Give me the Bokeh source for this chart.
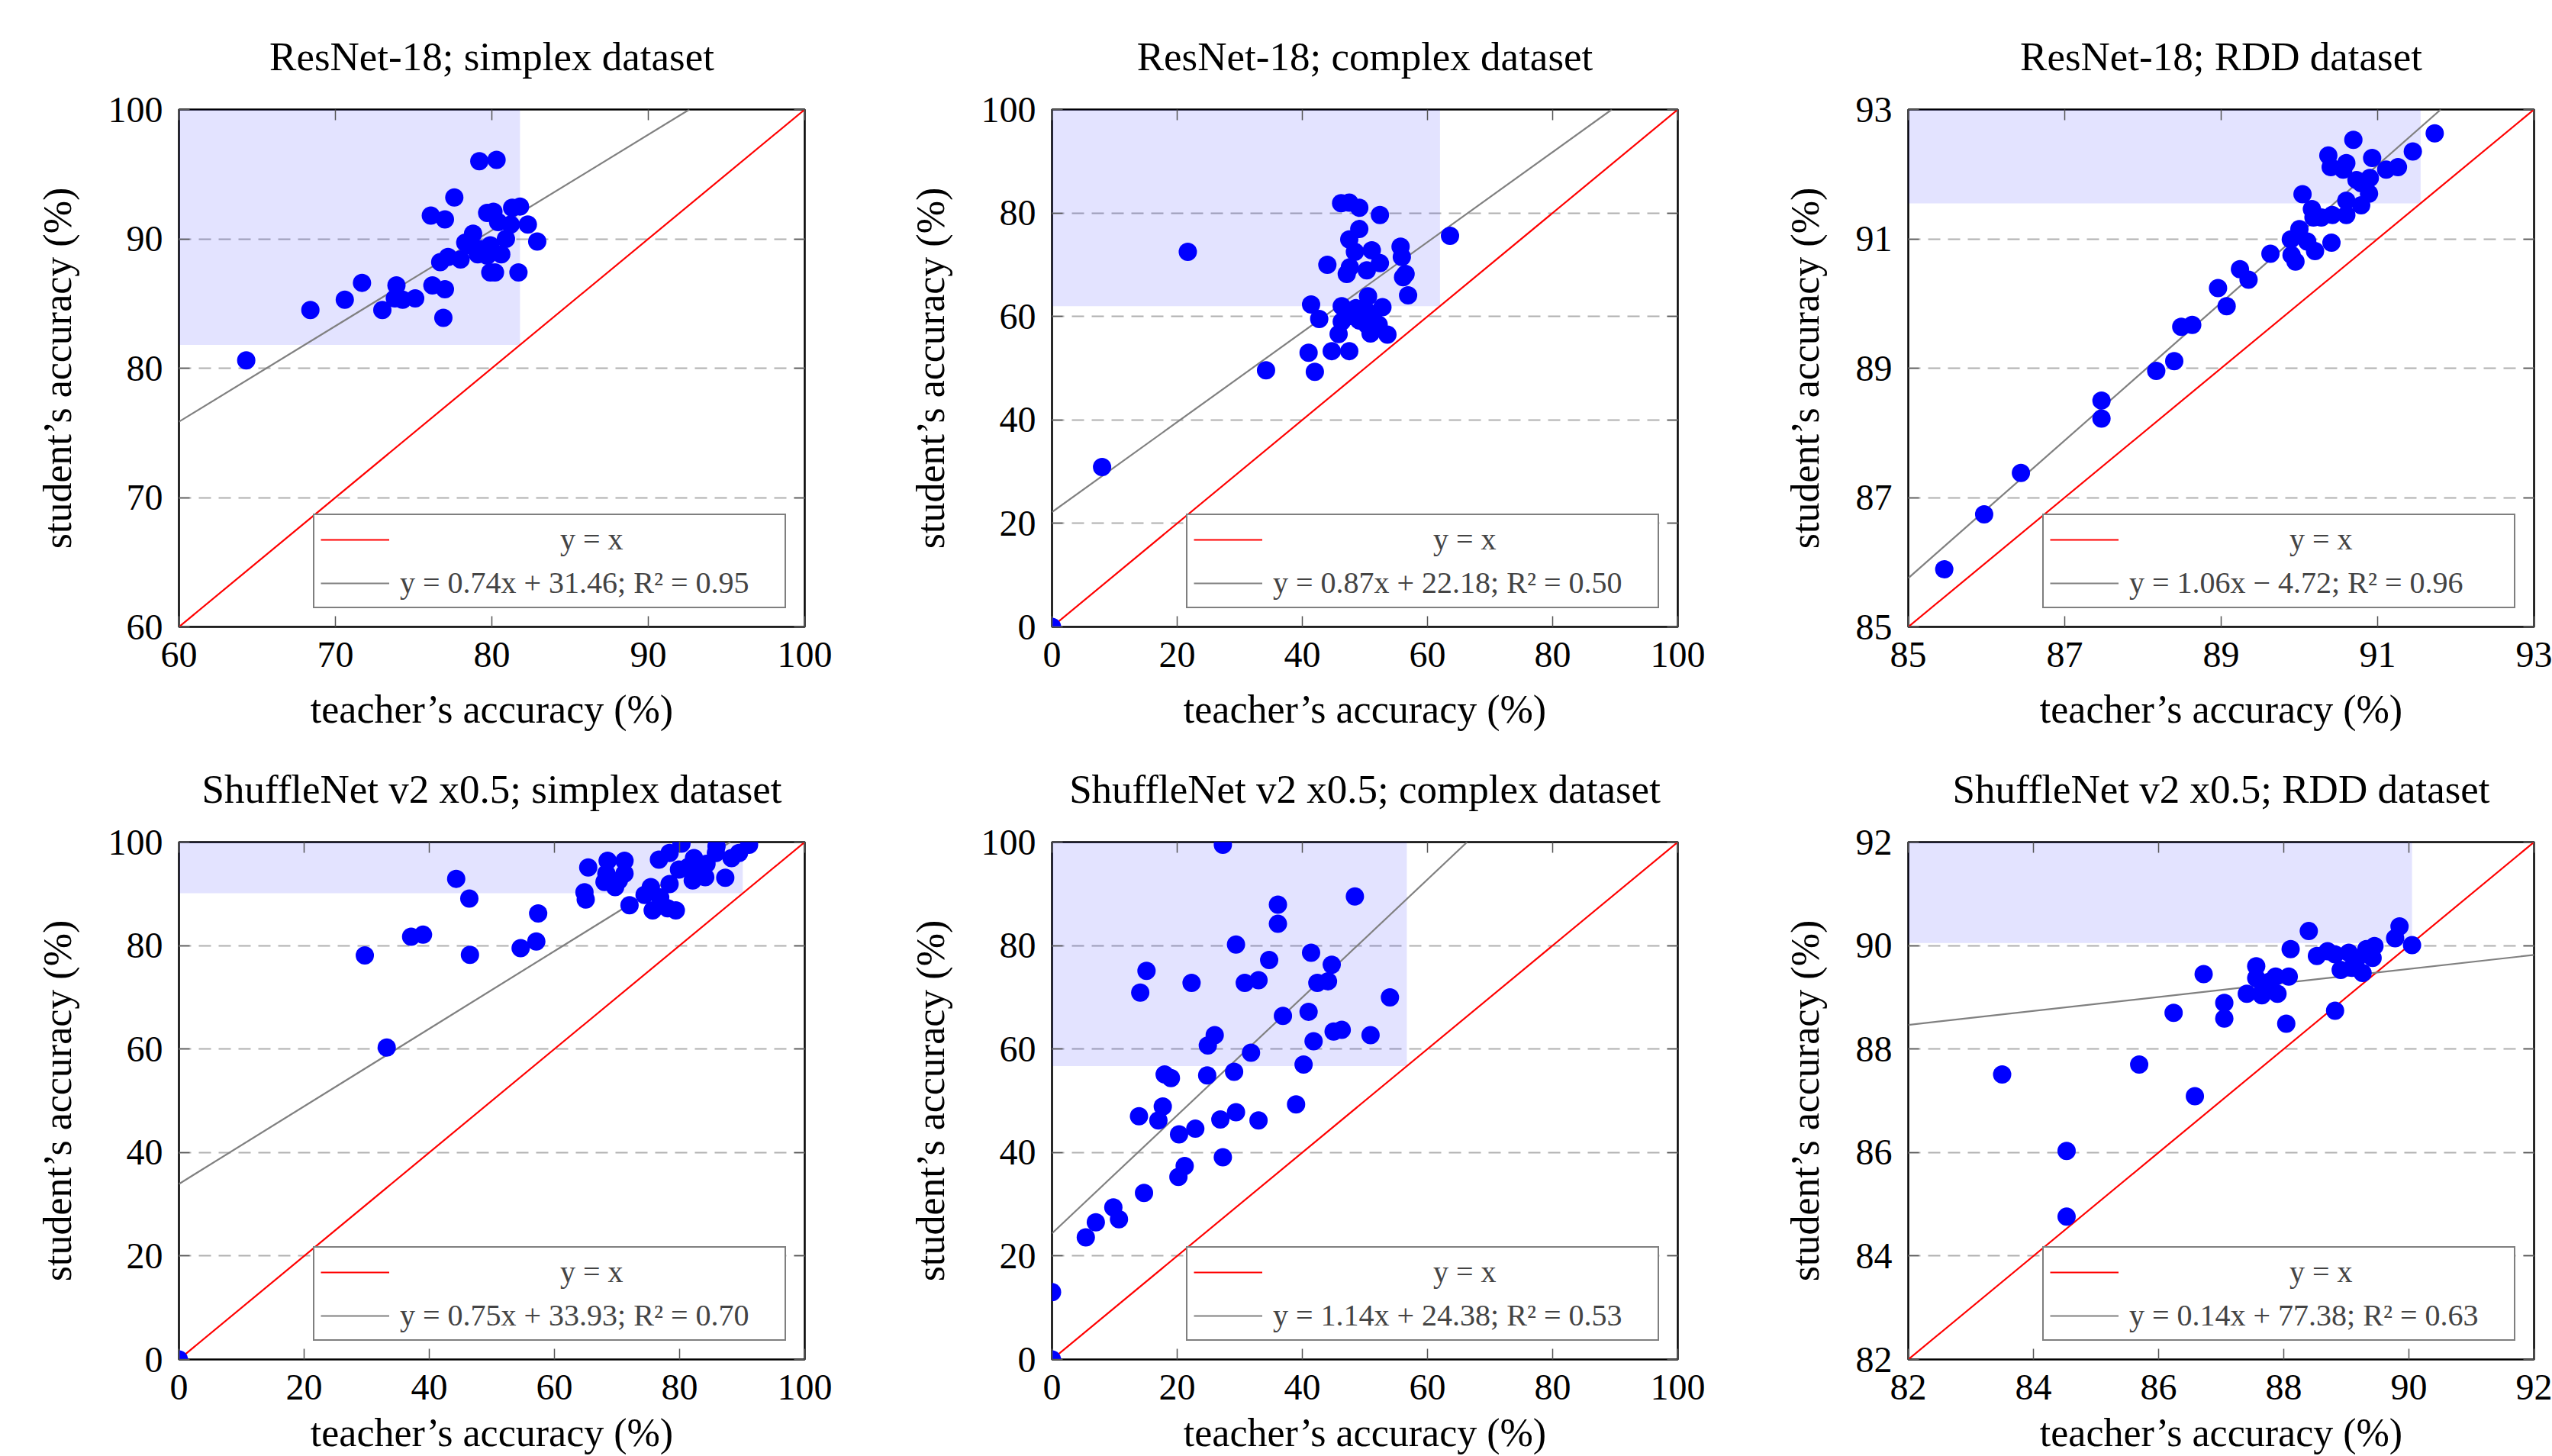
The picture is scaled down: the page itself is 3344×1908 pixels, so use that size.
from bokeh.plotting import figure
from bokeh.models import Range1d, FixedTicker, LinearAxis, Legend, LegendItem
from bokeh.layouts import row, column
from bokeh.embed import file_html
from bokeh.resources import INLINE

# ---------------- data ----------------
titles = [
    "ResNet-18; simplex dataset",
    "ResNet-18; complex dataset",
    "ResNet-18; RDD dataset",
    "ShuffleNet v2 x0.5; simplex dataset",
    "ShuffleNet v2 x0.5; complex dataset",
    "ShuffleNet v2 x0.5; RDD dataset",
]
x_label = "teacher\u2019s accuracy (%)"
y_label = "student\u2019s accuracy (%)"

axis_limits = [(60, 100), (0, 100), (85, 93), (0, 100), (0, 100), (82, 92)]
tick_values = [
    [60, 70, 80, 90, 100],
    [0, 20, 40, 60, 80, 100],
    [85, 87, 89, 91, 93],
    [0, 20, 40, 60, 80, 100],
    [0, 20, 40, 60, 80, 100],
    [82, 84, 86, 88, 90, 92],
]

fit_slope = [0.74, 0.87, 1.0644, 0.75, 1.14, 0.1352]
fit_intercept = [31.46, 22.18, -4.72, 33.93, 24.38, 77.38]
fit_labels = [
    "y = 0.74x + 31.46; R\u00b2 = 0.95",
    "y = 0.87x + 22.18; R\u00b2 = 0.50",
    "y = 1.06x \u2212 4.72; R\u00b2 = 0.96",
    "y = 0.75x + 33.93; R\u00b2 = 0.70",
    "y = 1.14x + 24.38; R\u00b2 = 0.53",
    "y = 0.14x + 77.38; R\u00b2 = 0.63",
]
identity_label = "y = x"

# corner of the shaded region (reference accuracy)
shade_corner = [81.8, 62.0, 91.55, 90.1, 56.7, 90.05]

p1_teacher = [64.3, 68.4, 70.6, 71.7, 73.0, 73.9, 73.8, 74.3, 75.1, 76.2, 77.0, 76.9, 76.1, 77.0,
              77.6, 79.2, 80.3, 76.7, 77.2, 78.0, 78.3, 78.8, 79.3, 79.7, 79.9, 80.2, 79.7, 80.1,
              80.4, 80.6, 80.9, 79.9, 81.2, 81.3, 81.8, 82.3, 82.9, 81.7, 78.6, 79.1]
p1_student = [80.6, 84.5, 85.3, 86.6, 84.5, 86.4, 85.4, 85.3, 85.4, 86.4, 86.1, 83.9, 91.8, 91.5,
              93.2, 96.0, 96.1, 88.2, 88.6, 88.4, 89.7, 90.4, 89.2, 88.7, 87.4, 87.4, 92.0, 92.1,
              91.3, 88.8, 90.0, 89.5, 91.1, 92.4, 92.5, 91.1, 89.8, 87.4, 89.5, 88.8]

p2_teacher = [0.0, 8.0, 21.7, 34.2, 42.0, 41.0, 41.4, 42.7, 44.0, 44.7, 47.5, 45.8, 46.3, 46.3,
              46.2, 47.5, 49.1, 52.4, 49.1, 47.5, 48.4, 51.1, 47.6, 47.1, 50.3, 52.4, 50.5, 48.6,
              50.3, 52.8, 47.6, 49.1, 51.3, 50.3, 52.2, 50.9, 53.6, 55.7, 55.9, 56.1, 56.5, 56.9, 63.6]
p2_student = [0.0, 30.9, 72.5, 49.6, 49.3, 53.0, 62.3, 59.5, 70.0, 53.3, 53.3, 56.6, 62.0, 59.0,
              81.9, 82.0, 81.0, 79.6, 76.9, 74.9, 72.5, 72.8, 69.5, 68.2, 68.9, 70.3, 63.9, 61.6,
              61.0, 61.8, 60.1, 59.2, 59.7, 58.4, 58.4, 56.7, 56.5, 73.5, 71.5, 67.6, 68.2, 64.1, 75.6]

p3_teacher = [85.46, 85.97, 86.44, 87.47, 87.47, 88.17, 88.40, 88.49, 88.63, 88.96, 89.07, 89.24,
              89.35, 89.63, 89.90, 89.95, 89.89, 90.00, 90.10, 90.20, 90.41, 90.16, 90.18, 90.28,
              90.42, 90.60, 90.04, 90.37, 90.40, 90.56, 90.60, 90.69, 90.73, 90.79, 90.60, 90.79,
              90.89, 90.90, 90.93, 91.11, 91.26, 91.45, 91.73]
p3_student = [85.89, 86.74, 87.38, 88.50, 88.22, 88.96, 89.11, 89.64, 89.67, 90.24, 89.96, 90.53,
              90.37, 90.77, 90.75, 90.65, 90.99, 91.15, 90.96, 90.81, 90.94, 91.46, 91.33, 91.33,
              91.37, 91.37, 91.69, 92.29, 92.11, 92.07, 92.17, 92.53, 91.91, 91.86, 91.59, 91.52,
              91.70, 91.94, 92.25, 92.07, 92.11, 92.35, 92.63]

p4_teacher = [0.0, 29.7, 33.2, 37.1, 39.0, 44.3, 46.4, 46.5, 54.6, 57.1, 57.4, 64.8, 65.0, 65.4,
              68.5, 68.3, 68.0, 69.7, 71.2, 71.2, 70.3, 72.0, 74.4, 75.4, 75.7, 76.9, 76.7, 78.4,
              78.1, 79.4, 78.4, 80.3, 79.9, 81.4, 82.1, 82.3, 83.4, 84.1, 84.3, 85.9, 85.8, 87.3,
              88.3, 89.5, 91.1]
p4_student = [0.0, 78.1, 60.3, 81.7, 82.1, 92.9, 89.1, 78.2, 79.5, 80.8, 86.2, 90.3, 88.9, 95.1,
              96.4, 93.9, 92.3, 91.3, 96.4, 93.9, 92.6, 87.8, 89.8, 91.3, 86.8, 89.3, 96.6, 91.9,
              87.2, 86.8, 97.9, 99.7, 94.7, 95.2, 92.6, 96.9, 94.9, 93.2, 95.8, 99.2, 97.9, 93.1,
              96.9, 97.9, 99.5]

p5_teacher = [0.0, 0.0, 5.4, 7.0, 9.8, 10.7, 14.7, 13.9, 17.0, 17.7, 18.0, 19.0, 14.1, 15.1, 20.2,
              21.2, 20.3, 22.9, 22.3, 24.8, 24.9, 26.0, 26.9, 27.3, 27.3, 29.1, 29.4, 29.4, 30.8,
              33.0, 31.8, 33.0, 34.7, 36.1, 36.1, 36.9, 39.0, 40.2, 41.0, 41.8, 41.4, 42.4, 44.1,
              44.7, 45.0, 46.3, 48.4, 50.9, 54.0]
p5_student = [0.0, 13.0, 23.6, 26.5, 29.4, 27.1, 32.2, 47.0, 46.2, 48.9, 55.1, 54.4, 70.9, 75.1,
              35.3, 37.4, 43.5, 44.6, 72.8, 54.9, 60.7, 62.7, 46.4, 39.1, 99.5, 55.6, 47.8, 80.2,
              72.8, 73.3, 59.3, 46.2, 77.2, 87.9, 84.2, 66.4, 49.3, 57.0, 67.2, 61.5, 78.6, 72.8,
              73.1, 76.3, 63.4, 63.7, 89.5, 62.7, 70.0]

p6_teacher = [83.50, 84.53, 84.53, 85.69, 86.24, 86.58, 86.72, 87.05, 87.05, 87.41, 87.56, 87.56,
              87.65, 87.67, 87.77, 87.87, 87.90, 88.04, 88.08, 88.11, 88.40, 88.53, 88.70, 88.82,
              88.82, 88.91, 89.04, 89.09, 89.16, 89.26, 89.32, 89.42, 89.45, 89.78, 89.85, 90.05]
p6_student = [87.51, 86.03, 84.76, 87.70, 88.70, 87.09, 89.45, 88.89, 88.59, 89.07, 89.60, 89.37,
              89.04, 89.20, 89.30, 89.40, 89.07, 88.49, 89.40, 89.93, 90.28, 89.80, 89.89, 89.83,
              88.74, 89.53, 89.86, 89.57, 89.73, 89.47, 89.93, 89.76, 89.99, 90.14, 90.37, 90.01]

teachers = [p1_teacher, p2_teacher, p3_teacher, p4_teacher, p5_teacher, p6_teacher]
students = [p1_student, p2_student, p3_student, p4_student, p5_student, p6_student]

# ---------------- style ----------------
FONT = "Liberation Serif"
FRAME_W, FRAME_H = 820, 678
borders_lr = [(234, 98), (226, 76), (226, 24)]
borders_tb = [(143, 139), (143, 126)]
label_standoff_x = [24, 12]
TICK_COLOR = "#555555"
LEGEND_FONT_PX = 40
LEGEND_LABEL_W = 496
# centre the "y = x" entry in the legend's text column (as in the original)
NBSP_W = 0.25 * LEGEND_FONT_PX
IDENT_W = 2.06 * LEGEND_FONT_PX
centred_identity = "\u00a0" * int(round((LEGEND_LABEL_W - IDENT_W) / 2 / NBSP_W)) + identity_label


def mirror_axis(ticks):
    ax = LinearAxis(ticker=FixedTicker(ticks=ticks))
    ax.major_label_overrides = {t: "" for t in ticks}
    ax.major_label_text_font_size = "1px"
    ax.major_label_standoff = 0
    ax.axis_line_color = None
    ax.major_tick_in = 14
    ax.major_tick_out = 0
    ax.major_tick_line_color = TICK_COLOR
    ax.major_tick_line_width = 1.5
    ax.minor_tick_line_color = None
    return ax


def make_panel(i):
    r, c = divmod(i, 3)
    lo, hi = axis_limits[i]
    bl, br = borders_lr[c]
    bt, bb = borders_tb[r]
    p = figure(frame_width=FRAME_W, frame_height=FRAME_H,
               x_range=Range1d(lo, hi), y_range=Range1d(lo, hi),
               output_backend="svg", toolbar_location=None,
               min_border_left=bl, min_border_right=br,
               min_border_top=bt, min_border_bottom=bb,
               background_fill_color="white", border_fill_color="white")
    p.title.text = titles[i]
    p.title.align = "center"
    p.title.text_font = FONT
    p.title.text_font_size = "53px"
    p.title.text_font_style = "normal"
    p.title.text_color = "black"
    p.title.standoff = 82

    # shaded region
    p.quad(left=[lo], right=[shade_corner[i]], bottom=[shade_corner[i]], top=[hi],
           fill_color="#0000ff", fill_alpha=0.11, line_color=None)

    # y = x
    ident = p.line(x=[lo, hi], y=[lo, hi], line_color="#ff0000", line_width=2.2)

    # regression line
    a, b = fit_slope[i], fit_intercept[i]
    x_end = min(hi, (hi - b) / a)
    fit = p.line(x=[lo, x_end], y=[a * lo + b, a * x_end + b],
                 line_color="#808080", line_width=2.2)

    p.scatter(x=teachers[i], y=students[i], size=24, fill_color="#0000ff",
              line_color="#0000ff", line_width=0)

    legend = Legend(items=[LegendItem(label=centred_identity, renderers=[ident]),
                           LegendItem(label=fit_labels[i], renderers=[fit])],
                    location="bottom_right", margin=24, padding=8, spacing=10,
                    glyph_width=90, glyph_height=30, label_height=44,
                    label_width=LEGEND_LABEL_W, label_standoff=14,
                    label_text_font=FONT, label_text_font_size=f"{LEGEND_FONT_PX}px",
                    border_line_color="black", border_line_width=2.5,
                    background_fill_color="white", background_fill_alpha=1.0)
    p.add_layout(legend)

    ticks = tick_values[i]
    for ax in (p.xaxis[0], p.yaxis[0]):
        ax.ticker = FixedTicker(ticks=ticks)
        ax.axis_line_color = None
        ax.major_tick_in = 14
        ax.major_tick_out = 0
        ax.major_tick_line_color = TICK_COLOR
        ax.major_tick_line_width = 1.5
        ax.minor_tick_line_color = None
        ax.major_label_text_font = FONT
        ax.major_label_text_font_size = "48px"
        ax.major_label_text_color = "black"
        ax.axis_label_text_font = FONT
        ax.axis_label_text_font_size = "52px"
        ax.axis_label_text_font_style = "normal"
        ax.axis_label_text_color = "black"
    p.xaxis.axis_label = x_label
    p.yaxis.axis_label = y_label
    p.xaxis.major_label_standoff = 20
    p.xaxis.axis_label_standoff = label_standoff_x[r]
    p.yaxis.major_label_standoff = 21
    p.yaxis.axis_label_standoff = 35

    p.add_layout(mirror_axis(ticks), "right")
    p.add_layout(mirror_axis(ticks), "above")

    p.xgrid.visible = False
    p.ygrid.ticker = FixedTicker(ticks=ticks)
    p.ygrid.grid_line_color = "#b0b0b0"
    p.ygrid.grid_line_width = 2
    p.ygrid.grid_line_dash = "16 10"

    p.outline_line_color = "black"
    p.outline_line_width = 2.5
    p.outline_line_alpha = 1.0
    return p


panels = [make_panel(i) for i in range(6)]
layout = column(row(*panels[:3]), row(*panels[3:]))

open("out.html", "w").write(file_html(layout, INLINE))
